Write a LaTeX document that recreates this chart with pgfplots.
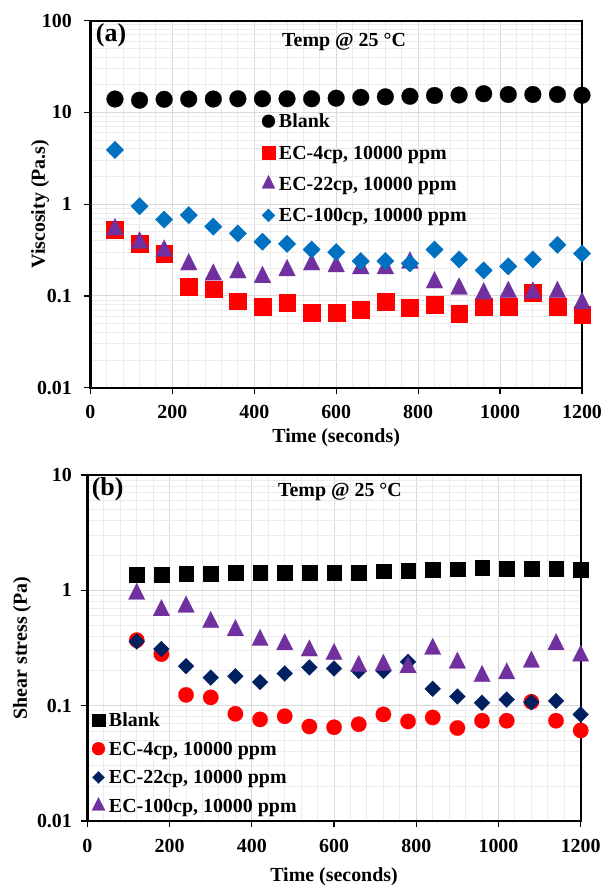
\documentclass[border=0pt]{standalone}
\usepackage{fontspec}
\setmainfont{Liberation Serif}
\usepackage{pgfplots}
\pgfplotsset{compat=1.18}

\definecolor{gridMajor}{HTML}{D9D9D9}
\definecolor{gridMinor}{HTML}{ECECEC}
\definecolor{ecRed}{HTML}{FF0000}
\definecolor{ecPurple}{HTML}{7030A0}
\definecolor{ecBlue}{HTML}{0070C0}
\definecolor{ecNavy}{HTML}{002060}

\newcommand{\tickfont}{\fontsize{20}{23}\selectfont\bfseries}
\newcommand{\labfont}{\fontsize{20}{24}\selectfont\bfseries}

\pgfplotsset{
  rheo/.style={
    scale only axis,
    clip=false,
    xmin=0, xmax=1200,
    xtick={0,200,...,1200},
    xticklabels={0,200,400,600,800,1000,1200},
    minor x tick num=4,
    xtick pos=bottom, ytick pos=left,
    grid=both,
    major grid style={draw=gridMajor, line width=1bp},
    minor grid style={draw=gridMinor, line width=1bp},
    axis line style={draw=black, line width=2.2bp},
    tick align=outside,
    major tick length=6bp,
    minor tick length=0bp,
    major tick style={draw=black, line width=1.2bp},
    tick label style={font=\tickfont},
    label style={font=\labfont},
    legend cell align=left,
    legend style={
      font=\labfont, draw=none, fill=none, inner sep=0pt, outer sep=0pt,
      column sep=4bp,
      nodes={inner sep=0pt, text height=16bp, text depth=3bp}
    },
  },
}

\begin{document}
\begin{tikzpicture}
\useasboundingbox (0,0) rectangle (614bp,885bp);

% ---------- (a) viscosity ----------
\begin{axis}[
  rheo,
  ymode=log,
  at={(90.4bp,497.3bp)}, anchor=south west,
  width=491.6bp, height=367bp,
  ymin=0.01, ymax=100,
  ytick={0.01,0.1,1,10,100},
  yticklabels={0.01,0.1,1,10,100},
  xticklabel style={yshift=-8bp},
  yticklabel style={xshift=-9bp},
  xlabel={Time (seconds)},
  ylabel={Viscosity (Pa.s)},
  xlabel style={at={(rel axis cs:0.5,-0.137)}, anchor=center},
  ylabel style={at={(rel axis cs:-0.1025,0.5)}, anchor=center},
  legend style={at={(rel axis cs:0.349,0.752)}, anchor=north west, row sep=12.4bp},
]
\addplot[only marks, mark=*, mark size=8.4bp, mark options={draw=black, fill=black, line width=0.2bp},
  legend image post style={mark size=6.5bp}]
  coordinates {(60,14.0) (120,13.6) (180,13.9) (240,14.0) (300,14.0) (360,14.1) (420,14.1)
    (480,14.1) (540,14.1) (600,14.3) (660,14.6) (720,14.8) (780,15.0) (840,15.3) (900,15.5)
    (960,16.0) (1020,15.7) (1080,15.7) (1140,15.7) (1200,15.4)};
\addlegendentry{Blank}
\addplot[only marks, mark=square*, mark size=8.4bp, mark options={draw=ecRed, fill=ecRed, line width=0.2bp},
  legend image post style={mark size=6.5bp}]
  coordinates {(60,0.53) (120,0.37) (180,0.29) (240,0.126) (300,0.119) (360,0.088) (420,0.077)
    (480,0.084) (540,0.066) (600,0.066) (660,0.071) (720,0.086) (780,0.074) (840,0.081)
    (900,0.064) (960,0.076) (1020,0.076) (1080,0.108) (1140,0.076) (1200,0.062)};
\addlegendentry{EC-4cp, 10000 ppm}
\addplot[only marks, mark=triangle*, mark size=9.7bp,
  mark options={draw=ecPurple, fill=ecPurple, line width=0.2bp, yscale=1.15},
  legend image post style={mark size=7.5bp}]
  coordinates {(60,0.53) (120,0.38) (180,0.31) (240,0.22) (300,0.17) (360,0.18) (420,0.16)
    (480,0.19) (540,0.22) (600,0.21) (660,0.20) (720,0.20) (780,0.23) (840,0.14)
    (900,0.12) (960,0.106) (1020,0.11) (1080,0.108) (1140,0.11) (1200,0.083)};
\addlegendentry{EC-22cp, 10000 ppm}
\addplot[only marks, mark=square*, mark size=6.2bp,
  mark options={draw=ecBlue, fill=ecBlue, line width=0.2bp, rotate=45},
  legend image post style={mark size=4.6bp}]
  coordinates {(60,3.9) (120,0.95) (180,0.68) (240,0.76) (300,0.57) (360,0.48) (420,0.39)
    (480,0.37) (540,0.32) (600,0.30) (660,0.24) (720,0.24) (780,0.226) (840,0.32)
    (900,0.25) (960,0.19) (1020,0.21) (1080,0.25) (1140,0.36) (1200,0.29)};
\addlegendentry{EC-100cp, 10000 ppm}
\node[font=\labfont] at (rel axis cs:0.516,0.942) {Temp @ 25 °C};
\node[font=\fontsize{26}{30}\selectfont\bfseries] at (rel axis cs:0.042,0.961) {(a)};
\end{axis}

% ---------- (b) shear stress ----------
\begin{axis}[
  rheo,
  ymode=log,
  at={(87.4bp,64bp)}, anchor=south west,
  width=493.3bp, height=346bp,
  ymin=0.01, ymax=10,
  ytick={0.01,0.1,1,10},
  yticklabels={0.01,0.1,1,10},
  xticklabel style={yshift=-9bp},
  yticklabel style={xshift=-6bp},
  xlabel={Time (seconds)},
  ylabel={Shear stress (Pa)},
  xlabel style={at={(rel axis cs:0.5,-0.162)}, anchor=center},
  ylabel style={at={(rel axis cs:-0.1326,0.5)}, anchor=center},
  legend style={at={(rel axis cs:0.0093,0.3194)}, anchor=north west, row sep=9.7bp},
]
\addplot[only marks, mark=square*, mark size=7.4bp, mark options={draw=black, fill=black, line width=0.2bp},
  legend image post style={mark size=6.3bp}]
  coordinates {(120,1.36) (180,1.38) (240,1.40) (300,1.40) (360,1.42) (420,1.42) (480,1.42)
    (540,1.42) (600,1.42) (660,1.43) (720,1.47) (780,1.48) (840,1.52) (900,1.53)
    (960,1.57) (1020,1.55) (1080,1.55) (1140,1.55) (1200,1.52)};
\addlegendentry{Blank}
\addplot[only marks, mark=*, mark size=7.7bp, mark options={draw=ecRed, fill=ecRed, line width=0.2bp},
  legend image post style={mark size=6.5bp}]
  coordinates {(120,0.37) (180,0.28) (240,0.124) (300,0.118) (360,0.085) (420,0.076) (480,0.081)
    (540,0.066) (600,0.065) (660,0.069) (720,0.084) (780,0.073) (840,0.079) (900,0.064)
    (960,0.074) (1020,0.074) (1080,0.108) (1140,0.074) (1200,0.061)};
\addlegendentry{EC-4cp, 10000 ppm}
\addplot[only marks, mark=square*, mark size=5.6bp,
  mark options={draw=ecNavy, fill=ecNavy, line width=0.2bp, rotate=45},
  legend image post style={mark size=4.3bp}]
  coordinates {(120,0.36) (180,0.31) (240,0.22) (300,0.175) (360,0.18) (420,0.16) (480,0.19)
    (540,0.215) (600,0.21) (660,0.20) (720,0.20) (780,0.24) (840,0.14) (900,0.12)
    (960,0.106) (1020,0.113) (1080,0.107) (1140,0.11) (1200,0.084)};
\addlegendentry{EC-22cp, 10000 ppm}
\addplot[only marks, mark=triangle*, mark size=9.5bp,
  mark options={draw=ecPurple, fill=ecPurple, line width=0.2bp, yscale=1.15},
  legend image post style={mark size=7.5bp}]
  coordinates {(120,0.93) (180,0.67) (240,0.72) (300,0.53) (360,0.45) (420,0.37) (480,0.34)
    (540,0.30) (600,0.28) (660,0.22) (720,0.225) (780,0.215) (840,0.31) (900,0.235)
    (960,0.18) (1020,0.19) (1080,0.24) (1140,0.34) (1200,0.27)};
\addlegendentry{EC-100cp, 10000 ppm}
\node[font=\labfont] at (rel axis cs:0.512,0.952) {Temp @ 25 °C};
\node[font=\fontsize{26}{30}\selectfont\bfseries] at (rel axis cs:0.041,0.96) {(b)};
\end{axis}
\end{tikzpicture}
\end{document}
